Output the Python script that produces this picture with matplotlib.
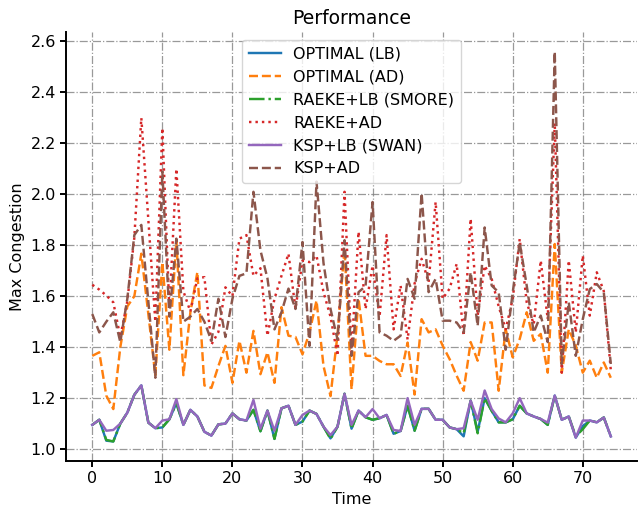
import numpy as np
import matplotlib
matplotlib.use("Agg")
import matplotlib.pyplot as plt

# values, one per time step (0..74)
optimal_lb = [1.095, 1.115, 1.033, 1.030, 1.100, 1.143, 1.213, 1.250, 1.104, 1.082,
              1.085, 1.117, 1.180, 1.095, 1.154, 1.128, 1.068, 1.053, 1.097, 1.100,
              1.140, 1.117, 1.112, 1.154, 1.070, 1.151, 1.040, 1.160, 1.170, 1.095,
              1.108, 1.151, 1.138, 1.088, 1.042, 1.088, 1.217, 1.080, 1.151, 1.125,
              1.115, 1.121, 1.134, 1.060, 1.071, 1.170, 1.072, 1.158, 1.158, 1.115,
              1.115, 1.085, 1.078, 1.050, 1.190, 1.068, 1.200, 1.150, 1.105, 1.105,
              1.117, 1.170, 1.140, 1.128, 1.118, 1.095, 1.210, 1.115, 1.128, 1.045,
              1.090, 1.112, 1.105, 1.124, 1.050]
optimal_ad = [1.366, 1.380, 1.210, 1.157, 1.400, 1.560, 1.600, 1.767, 1.530, 1.290,
              1.734, 1.390, 1.820, 1.290, 1.537, 1.695, 1.250, 1.240, 1.326, 1.405,
              1.260, 1.425, 1.300, 1.464, 1.294, 1.380, 1.260, 1.557, 1.445, 1.440,
              1.372, 1.458, 1.583, 1.326, 1.208, 1.450, 1.787, 1.234, 1.590, 1.366,
              1.366, 1.346, 1.333, 1.333, 1.287, 1.418, 1.214, 1.510, 1.458, 1.470,
              1.406, 1.353, 1.288, 1.229, 1.420, 1.347, 1.497, 1.497, 1.229, 1.470,
              1.360, 1.432, 1.537, 1.425, 1.452, 1.300, 1.805, 1.300, 1.470, 1.406,
              1.300, 1.347, 1.280, 1.340, 1.280]
raeke_lb = list(optimal_lb)
for i, v in [(2, 1.036), (34, 1.040), (53, 1.062), (55, 1.062), (69, 1.050), (70, 1.078)]:
    raeke_lb[i] = v
raeke_ad = [1.645, 1.626, 1.603, 1.576, 1.440, 1.580, 1.830, 2.300, 1.900, 1.500,
            2.260, 1.550, 2.100, 1.620, 1.540, 1.670, 1.675, 1.410, 1.460, 1.635,
            1.600, 1.826, 1.840, 1.680, 1.710, 1.445, 1.590, 1.680, 1.767, 1.550,
            1.740, 1.734, 1.760, 1.616, 1.520, 1.366, 2.010, 1.380, 1.853, 1.550,
            1.720, 1.520, 1.840, 1.470, 1.642, 1.430, 1.650, 1.747, 1.655, 1.970,
            1.590, 1.630, 1.727, 1.445, 1.904, 1.524, 1.720, 1.668, 1.560, 1.470,
            1.590, 1.825, 1.576, 1.490, 1.740, 1.510, 2.280, 1.300, 1.740, 1.458,
            1.760, 1.524, 1.694, 1.620, 1.310]
ksp_lb = [1.095, 1.115, 1.072, 1.075, 1.100, 1.143, 1.213, 1.250, 1.104, 1.082,
          1.112, 1.117, 1.196, 1.095, 1.154, 1.128, 1.068, 1.053, 1.097, 1.100,
          1.140, 1.117, 1.112, 1.193, 1.080, 1.151, 1.072, 1.160, 1.170, 1.095,
          1.134, 1.151, 1.138, 1.088, 1.055, 1.088, 1.217, 1.095, 1.151, 1.125,
          1.157, 1.121, 1.134, 1.075, 1.071, 1.200, 1.095, 1.158, 1.158, 1.115,
          1.115, 1.085, 1.078, 1.082, 1.190, 1.115, 1.230, 1.157, 1.120, 1.105,
          1.140, 1.200, 1.140, 1.128, 1.118, 1.104, 1.210, 1.115, 1.128, 1.045,
          1.112, 1.112, 1.105, 1.124, 1.050]
ksp_ad = [1.530, 1.458, 1.500, 1.537, 1.420, 1.590, 1.840, 1.880, 1.580, 1.280,
          2.090, 1.520, 1.826, 1.500, 1.520, 1.550, 1.500, 1.425, 1.590, 1.440,
          1.590, 1.680, 1.690, 2.010, 1.780, 1.670, 1.470, 1.537, 1.630, 1.550,
          1.813, 1.405, 2.050, 1.730, 1.550, 1.430, 1.820, 1.366, 1.616, 1.640,
          1.970, 1.458, 1.445, 1.425, 1.445, 1.668, 1.590, 2.004, 1.616, 1.668,
          1.504, 1.504, 1.497, 1.458, 1.694, 1.484, 1.870, 1.642, 1.615, 1.390,
          1.615, 1.810, 1.642, 1.458, 1.524, 1.420, 2.560, 1.334, 1.576, 1.366,
          1.510, 1.628, 1.648, 1.615, 1.334]

series = [
    ("OPTIMAL (LB)", optimal_lb, "-"),
    ("OPTIMAL (AD)", optimal_ad, "--"),
    ("RAEKE+LB (SMORE)", raeke_lb, "-."),
    ("RAEKE+AD", raeke_ad, ":"),
    ("KSP+LB (SWAN)", ksp_lb, "-"),
    ("KSP+AD", ksp_ad, "--"),
]


def main():
    plt.rcParams["font.size"] = 11.5
    fig, ax = plt.subplots(figsize=(6.38, 5.11), dpi=100)
    fig.subplots_adjust(left=0.104, right=0.998, top=0.937, bottom=0.098)

    t = np.arange(len(optimal_lb))
    for name, vals, ls in series:
        ax.plot(t, vals, linestyle=ls, linewidth=1.75, label=name)

    ax.set_title("Performance", fontsize=13.5)
    ax.set_xlabel("Time")
    ax.set_ylabel("Max Congestion")
    ax.set_xticks(np.arange(0, 71, 10))
    ax.set_yticks(np.arange(1.0, 2.61, 0.2))
    ax.grid(True, linestyle="-.", color="gray", alpha=0.8, linewidth=0.9)

    ax.spines["top"].set_visible(False)
    ax.spines["right"].set_visible(False)
    for side in ("left", "bottom"):
        ax.spines[side].set_linewidth(1.4)
    ax.tick_params(width=1.4, length=4)

    ax.legend(loc="upper center")
    fig.savefig("out.png")


if __name__ == "__main__":
    main()
